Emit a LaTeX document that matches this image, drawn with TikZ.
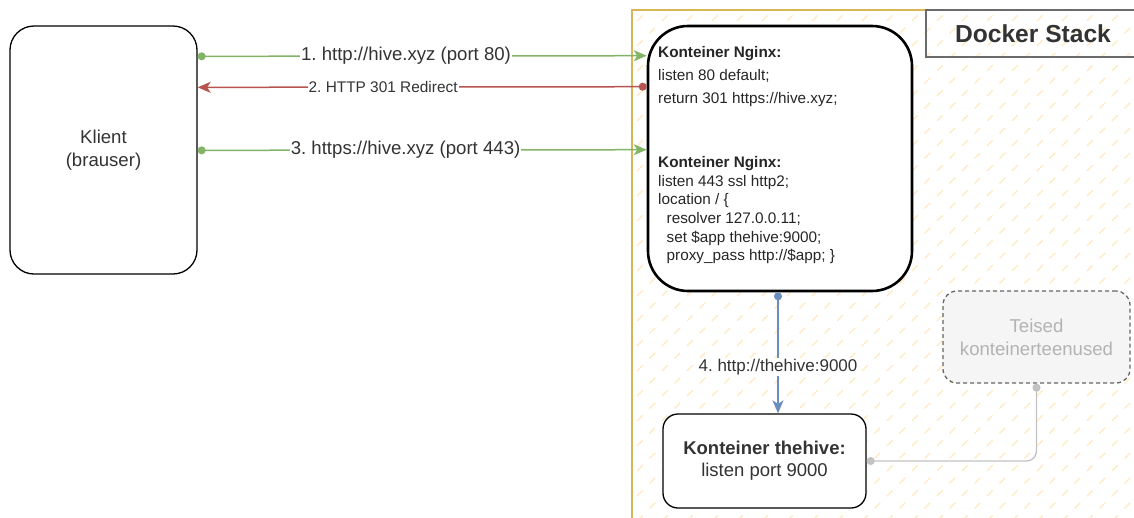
\documentclass[tikz,border=0pt]{standalone}
\usepackage{fontspec}
\setmainfont{Liberation Sans}
\usetikzlibrary{arrows.meta}
\frenchspacing

\definecolor{callgreen}{HTML}{82B366}
\definecolor{redirred}{HTML}{B85450}
\definecolor{fwdblue}{HTML}{6C8EBF}
\definecolor{stackline}{HTML}{D6B656}
\definecolor{hatchcol}{HTML}{FFE9BF}
\definecolor{txtgray}{HTML}{333333}
\definecolor{othergray}{HTML}{B3B3B3}

\tikzstyle{box}=[draw,fill=white,line width=1.3pt,text=txtgray,align=center,font=\fontsize{18.6}{23}\selectfont]
\tikzstyle{nginxbox}=[draw,fill=white,line width=2.6pt,rounded corners=40pt,minimum width=264pt,minimum height=265pt]
\tikzstyle{code}=[anchor=north west,inner sep=0pt,align=left,text=black!85]
\tikzstyle{otherbox}=[box,draw=black!60,fill=black!4,text=othergray,dash pattern=on 4pt off 3pt,rounded corners=14pt]
\tikzstyle{lbl}=[fill=white,inner sep=1pt,text=txtgray,font=\fontsize{18.6}{22}\selectfont]
\tikzstyle{hatch}=[draw=hatchcol,line width=1.2pt,dash pattern=on 8pt off 9.68pt]
\tikzstyle{call}=[draw=callgreen,line width=1.5pt,{Circle[length=8pt]}-{Stealth[length=13pt,width=11pt,inset=3.5pt]}]
\tikzstyle{redir}=[call,draw=redirred]
\tikzstyle{fwd}=[call,draw=fwdblue]
\tikzstyle{link}=[draw=othergray!80,line width=1.3pt,rounded corners=10pt,{Circle[length=8pt]}-{Circle[length=8pt]}]

\begin{document}
\begin{tikzpicture}[x=1pt, y=-1pt]
		\useasboundingbox (0,0) rectangle (1134,517);
		\begin{scope}
			\clip (632,10) rectangle (1134,517);
			\foreach \k in {25,...,67}
				\draw[hatch] ({25*\k+8-521},521) -- ({25*\k+8},0);
		\end{scope}
		\draw[stackline,line width=1.3pt] (632,10) rectangle (1150,540);

		\node [box,minimum width=187pt,minimum height=248pt,rounded corners=24pt] (klient) at (103.5,150) {Klient\\(brauser)};
		\node [nginxbox] (nginx) at (780,158.5) {};
		\node [code,font=\fontsize{15.3}{23.3}\selectfont] (nginx80) at (658,46) {\textbf{Konteiner Nginx:}\\listen 80 default;\\return 301 https://hive.xyz;};
		\node [code,font=\fontsize{15.3}{18.6}\selectfont] (nginx443) at (658,156.5) {\textbf{Konteiner Nginx:}\\listen 443 ssl http2;\\location / \{\\\hspace*{8.5pt}resolver 127.0.0.11;\\\hspace*{8.5pt}set \$app thehive:9000;\\\hspace*{8.5pt}proxy\_pass http://\$app; \}};
		\node [box,minimum width=203pt,minimum height=94pt,rounded corners=15pt,font=\fontsize{18.5}{22}\selectfont] (thehive) at (764.5,461) {\textbf{Konteiner thehive:}\\listen port 9000};
		\node [otherbox,minimum width=187pt,minimum height=92pt] (teised) at (1036.5,337) {Teised\\konteinerteenused};
		\node [draw=black!58,line width=1.2pt,minimum width=214pt,minimum height=47pt,text=txtgray,font=\bfseries\fontsize{24.6}{28}\selectfont] (stack) at (1033,33.5) {Docker Stack};

		\draw[call]  ([yshift=-31pt]klient.north east) -- node[lbl,pos=.464] (req80) {1. http://hive.xyz (port 80)} ([yshift=-31pt]nginx.north west);
		\draw[redir] ([yshift=-62pt]nginx.north west) -- node[lbl,pos=.587,font=\fontsize{15.4}{18}\selectfont] (redirect) {2. HTTP 301 Redirect} ([yshift=-62pt]klient.north east);
		\draw[call]  ([yshift=-125pt]klient.north east) -- node[lbl,pos=.463] (req443) {3. https://hive.xyz (port 443)} ([yshift=-125pt]nginx.north west);
		\draw[fwd]   ([xshift=-2pt]nginx.south) -- node[lbl,pos=.62,font=\fontsize{17}{20}\selectfont] (proxy) {4. http://thehive:9000} ([xshift=13.5pt]thehive.north);
		\draw[link]  (teised.south) |- (thehive.east);
\end{tikzpicture}
\end{document}
